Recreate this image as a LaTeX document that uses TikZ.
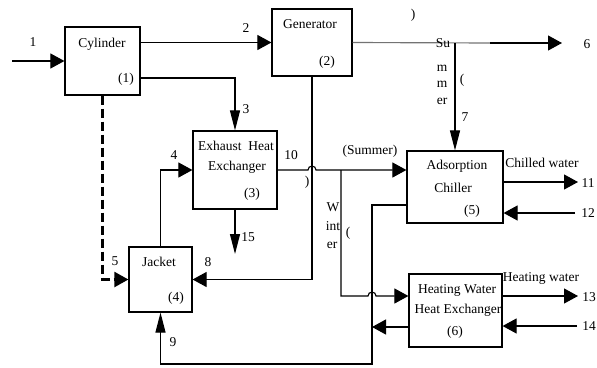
\documentclass[tikz,border=0pt]{standalone}
\usepackage{fontspec}
\setmainfont{Liberation Serif}
\usetikzlibrary{arrows.meta}
\begin{document}
\begin{tikzpicture}[x=1pt,y=-1pt, line width=1.15pt,
  box/.style={draw, line width=1.2pt, inner sep=0pt},
  lbl/.style={inner sep=0pt, font=\fontsize{13.5}{15}\selectfont},
  ha/.style={-{Triangle[length=14pt,width=15pt]}},
  va/.style={-{Triangle[length=20pt,width=10pt]}},
  dsh/.style={dash pattern=on 9pt off 4pt, line width=2.2pt}
]
\useasboundingbox (0,0) rectangle (597,367);
% boxes
\node[box, minimum width=75pt, minimum height=68pt] (cyl) at (102.5,61) {};
\node[box, minimum width=80pt, minimum height=67pt] (gen) at (312,42.5) {};
\node[box, minimum width=84pt, minimum height=78pt] (ehx) at (235,170) {};
\node[box, minimum width=63pt, minimum height=65pt] (jac) at (160.5,279.5) {};
\node[box, minimum width=96pt, minimum height=72pt] (chl) at (455,187) {};
\node[box, minimum width=93pt, minimum height=73pt] (hwx) at (455.5,310.5) {};
% box texts
\node[lbl] (tcyl) at (102,44) {Cylinder};
\node[lbl] (ncyl) at (126,79) {(1)};
\node[lbl] (tgen) at (310,24) {Generator};
\node[lbl] (ngen) at (327,62) {(2)};
\node[lbl] (tehx1) at (236,146) {Exhaust\ \ Heat};
\node[lbl] (tehx2) at (237,167) {Exchanger};
\node[lbl] (nehx) at (252,194) {(3)};
\node[lbl] (tjac) at (159,262) {Jacket};
\node[lbl] (njac) at (176,298) {(4)};
\node[lbl] (tchl1) at (457,166) {Adsorption};
\node[lbl] (tchl2) at (453,188) {Chiller};
\node[lbl] (nchl) at (472,211) {(5)};
\node[lbl] (thwx1) at (457,290) {Heating Water};
\node[lbl] (thwx2) at (458,310) {Heat Exchanger};
\node[lbl] (nhwx) at (455,332) {(6)};
% coordinates
\coordinate (in1) at (12,61);
\coordinate (out6) at (562,43);
\coordinate (g1) at (490,43);
\coordinate (j7) at (455,43);
\coordinate (e15) at (235,254);
\coordinate (j10) at (341,170);
\coordinate (w2) at (341,296);
\coordinate (r1) at (372,364);
\coordinate (r2) at (372,327);
\coordinate (o11) at (578,182);
\coordinate (i12) at (575,213);
\coordinate (o13) at (578,296);
\coordinate (i14) at (577,326);
% connectors
\draw[ha] (in1) -- (cyl.west);
\draw[ha] (cyl.east |- gen.west) -- (gen.west);
\draw[va] ([yshift=-17pt]cyl.east) -| (ehx.north);
\draw[black!55] (gen.east) -- (g1);
\draw[ha] (g1) -- (out6);
\draw[va] (j7) -- (chl.north);
\draw[ha] (ehx.east) -- (308,170) arc[start angle=180,end angle=360,radius=4] -- (chl.west |- ehx.east);
\draw[ha] (j10) -- (w2) -- (368,296) arc[start angle=180,end angle=360,radius=4] -- (hwx.west |- w2);
\draw[ha] (gen.south) |- (jac.east);
\draw[ha, dsh] (cyl.south) |- (jac.west);
\draw[ha] (jac.north) |- (ehx.west);
\draw[va] (ehx.south) -- (e15);
\draw[va] ([yshift=-18pt]chl.west) -| (r1) -| (jac.south);
\draw[ha] (hwx.west |- r2) -- (r2);
\draw[ha] (chl.east |- o11) -- (o11);
\draw[ha] (i12) -- (chl.east |- i12);
\draw[ha] (hwx.east |- o13) -- (o13);
\draw[ha] (i14) -- (hwx.east |- i14);
% number labels
\node[lbl] (l1) at (33,42) {1};
\node[lbl] (l2) at (246,28) {2};
\node[lbl] (l3) at (246,109) {3};
\node[lbl] (l4) at (174,155) {4};
\node[lbl] (l5) at (115,261) {5};
\node[lbl] (l6) at (587,44) {6};
\node[lbl] (l7) at (465,117) {7};
\node[lbl] (l8) at (208,262) {8};
\node[lbl] (l9) at (173,342) {9};
\node[lbl] (l10) at (291,155) {10};
\node[lbl] (l11) at (588,183) {11};
\node[lbl] (l12) at (588,213) {12};
\node[lbl] (l13) at (589,297) {13};
\node[lbl] (l14) at (589,326) {14};
\node[lbl] (l15) at (248,237) {15};
% other labels
\node[lbl] (lcw) at (542,163) {Chilled water};
\node[lbl] (lhw) at (541,278) {Heating water};
\node[lbl] (lsum) at (370,151) {(Summer)};
\node[lbl] (ls1) at (443,43) {Su};
\node[lbl] (ls2) at (442,68) {m};
\node[lbl] (ls3) at (442,84) {m};
\node[lbl] (ls4) at (442,101) {er};
\node[lbl] (lp1) at (462,80) {(};
\node[lbl] (lp2) at (413,15) {)};
\node[lbl] (lp3) at (307,182) {)};
\node[lbl] (lw1) at (333,207) {W};
\node[lbl] (lw2) at (333,226) {int};
\node[lbl] (lw3) at (332,245) {er};
\node[lbl] (lp4) at (348,233) {(};
\end{tikzpicture}
\end{document}
